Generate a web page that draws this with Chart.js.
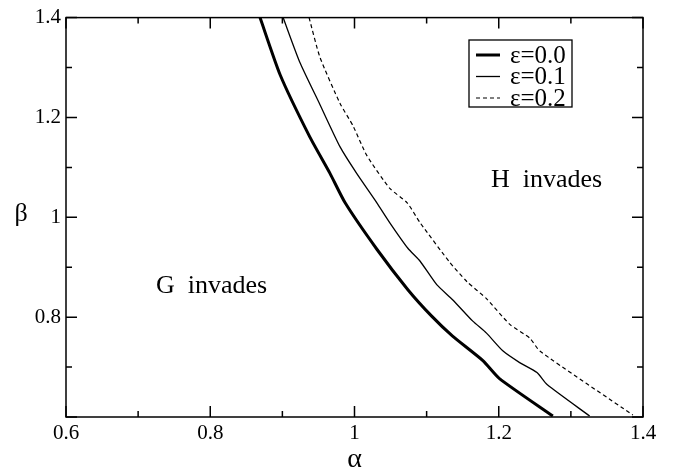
<!DOCTYPE html>
<html>
<head>
<meta charset="utf-8">
<script src="https://cdn.jsdelivr.net/npm/chart.js@4"></script>
<style>
    html, body { margin: 0; padding: 0; background: #fff; }
    #wrap { width: 681px; height: 476px; }
</style>
</head>
<body>
<div id="wrap"><canvas id="chart"></canvas></div>
<script>
// boundary curves
const alpha0 = [0.869, 0.897, 0.938, 0.966, 0.987, 1.031, 1.074, 1.107, 1.136, 1.178, 1.201, 1.275];
const beta0  = [1.400, 1.285, 1.161, 1.088, 1.029, 0.936, 0.855, 0.802, 0.762, 0.713, 0.677, 0.602];

const alpha1 = [0.901, 0.924, 0.952, 0.980, 1.003, 1.031, 1.049, 1.074, 1.091, 1.114, 1.136, 1.164, 1.183, 1.206, 1.229, 1.253, 1.267, 1.326];
const beta1  = [1.400, 1.311, 1.226, 1.141, 1.088, 1.029, 0.989, 0.938, 0.912, 0.865, 0.835, 0.792, 0.768, 0.732, 0.709, 0.689, 0.665, 0.602];

const alpha2 = [0.937, 0.952, 0.980, 0.998, 1.017, 1.049, 1.073, 1.091, 1.132, 1.156, 1.183, 1.215, 1.243, 1.257, 1.386];
const beta2  = [1.400, 1.321, 1.228, 1.183, 1.124, 1.058, 1.029, 0.989, 0.910, 0.871, 0.837, 0.786, 0.758, 0.732, 0.604];

const seriesLabels = ['ε=0.0', 'ε=0.1', 'ε=0.2'];
const xTicks = [0.6, 0.8, 1.0, 1.2, 1.4];
const yTicks = [0.6, 0.8, 1.0, 1.2, 1.4];
const regionLabels = ['G  invades', 'H  invades'];

const serif = '"Liberation Serif", "DejaVu Serif", serif';

function pts(xs, ys) {
    return xs.map((x, i) => ({ x: x, y: ys[i] }));
}

// frame, inward ticks on all four sides, legend and text
const decor = {
    id: 'decor',
    afterDraw(chart) {
        const ctx = chart.ctx;
        const a = chart.chartArea;
        const xs = chart.scales.x, ys = chart.scales.y;
        ctx.save();
        ctx.strokeStyle = '#000';
        ctx.lineWidth = 1.5;
        ctx.strokeRect(a.left, a.top, a.right - a.left, a.bottom - a.top);

        ctx.beginPath();
        for (let v = 0.6; v <= 1.401; v += 0.1) {
            const major = Math.round(v * 10) % 2 === 0;
            const len = major ? 11 : 6;
            const px = xs.getPixelForValue(v);
            ctx.moveTo(px, a.bottom); ctx.lineTo(px, a.bottom - len);
            ctx.moveTo(px, a.top); ctx.lineTo(px, a.top + len);
            const py = ys.getPixelForValue(v);
            ctx.moveTo(a.left, py); ctx.lineTo(a.left + len, py);
            ctx.moveTo(a.right, py); ctx.lineTo(a.right - len, py);
        }
        ctx.stroke();

        // axis titles
        ctx.fillStyle = '#000';
        ctx.textAlign = 'center';
        ctx.textBaseline = 'middle';
        ctx.font = '28px ' + serif;
        ctx.fillText('α', (a.left + a.right) / 2, 460);
        ctx.font = '26px ' + serif;
        ctx.fillText('β', 21, 214);

        // region labels
        ctx.font = '26px ' + serif;
        ctx.textAlign = 'left';
        ctx.textBaseline = 'alphabetic';
        ctx.fillText(regionLabels[0], 156, 293);
        ctx.fillText(regionLabels[1], 491, 187);

        // legend box
        const bx = 469, by = 40, bw = 103, bh = 67;
        ctx.lineWidth = 1.3;
        ctx.strokeRect(bx, by, bw, bh);
        ctx.font = '25px ' + serif;
        ctx.textBaseline = 'middle';
        chart.data.datasets.forEach((ds, i) => {
            const yy = by + 15 + i * 21.5;
            ctx.beginPath();
            ctx.lineWidth = ds.borderWidth;
            ctx.setLineDash(ds.borderDash || []);
            ctx.moveTo(bx + 7, yy);
            ctx.lineTo(bx + 31, yy);
            ctx.stroke();
            ctx.setLineDash([]);
            ctx.fillText(ds.label, bx + 41, yy + 1);
        });
        ctx.restore();
    }
};

new Chart(document.getElementById('chart'), {
    type: 'scatter',
    data: {
        datasets: [
            { label: seriesLabels[0], data: pts(alpha0, beta0), showLine: true, borderColor: '#000', borderWidth: 3, pointRadius: 0, tension: 0.2 },
            { label: seriesLabels[1], data: pts(alpha1, beta1), showLine: true, borderColor: '#000', borderWidth: 1.3, pointRadius: 0, tension: 0.2 },
            { label: seriesLabels[2], data: pts(alpha2, beta2), showLine: true, borderColor: '#000', borderWidth: 1.2, borderDash: [4, 3], pointRadius: 0, tension: 0.2 }
        ]
    },
    options: {
        responsive: true,
        maintainAspectRatio: false,
        animation: false,
        layout: { padding: { top: 12, right: 38, left: 0, bottom: 0 } },
        plugins: { legend: { display: false }, tooltip: { enabled: false } },
        scales: {
            x: {
                type: 'linear',
                min: xTicks[0],
                max: xTicks[xTicks.length - 1],
                grid: { display: false, drawTicks: false },
                border: { display: false },
                afterBuildTicks: (s) => { s.ticks = xTicks.map(v => ({ value: v })); },
                afterFit: (s) => { s.height = 59; },
                ticks: {
                    padding: 4,
                    color: '#000',
                    font: { family: serif, size: 21 },
                    callback: (v) => String(Number(v.toFixed(1)))
                }
            },
            y: {
                type: 'linear',
                min: yTicks[0],
                max: yTicks[yTicks.length - 1],
                grid: { display: false, drawTicks: false },
                border: { display: false },
                afterBuildTicks: (s) => { s.ticks = yTicks.map(v => ({ value: v })); },
                afterFit: (s) => { s.width = 66; },
                ticks: {
                    padding: 5,
                    color: '#000',
                    font: { family: serif, size: 21 },
                    callback: (v) => v === yTicks[0] ? '' : String(Number(v.toFixed(1)))
                }
            }
        }
    },
    plugins: [decor]
});
</script>
</body>
</html>
